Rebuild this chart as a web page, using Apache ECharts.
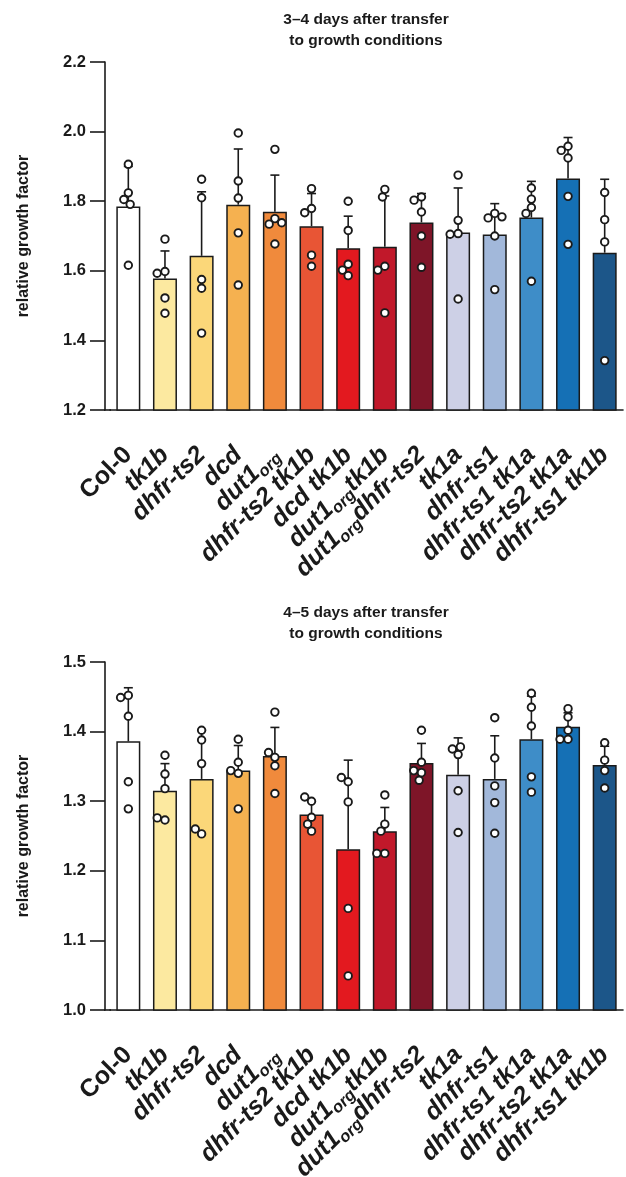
<!DOCTYPE html>
<html>
<head>
<meta charset="utf-8">
<script src="https://cdn.jsdelivr.net/npm/echarts@6/dist/echarts.min.js"></script>
<style>
  html, body { margin: 0; padding: 0; background: #fff; }
  #chart { width: 626px; height: 1177px; }
</style>
</head>
<body>
<div id="chart"></div>
<script>
// Genotypes on the x axis (shared by both panels)
const categories = ['Col-0', 'tk1b', 'dhfr-ts2', 'dcd', 'dut1org', 'dhfr-ts2 tk1b', 'dcd tk1b',
  'dut1org tk1b', 'dut1org dhfr-ts2', 'tk1a', 'dhfr-ts1', 'dhfr-ts1 tk1a', 'dhfr-ts2 tk1a', 'dhfr-ts1 tk1b'];

const barColors = ['#ffffff', '#fce9a0', '#fbd779', '#f5b150', '#f08a3c', '#e85535', '#e3191f',
  '#c1182a', '#7e1528', '#cdd0e6', '#a2b8da', '#3e8dc8', '#1570b5', '#1c5689'];

// Panel A: 3–4 days after transfer (means, mean + SD, single replicates)
const titleA = '3–4 days after transfer\nto growth conditions';
const meanA = [1.785, 1.578, 1.643, 1.790, 1.770, 1.728, 1.665, 1.669, 1.739, 1.710, 1.704, 1.753, 1.865, 1.652];
const sdTopA = [1.900, 1.657, 1.827, 1.950, 1.875, 1.822, 1.757, 1.815, 1.822, 1.838, 1.793, 1.857, 1.983, 1.863];
const pointsA = [
  [1.906, 1.824, 1.805, 1.791, 1.616],
  [1.691, 1.598, 1.593, 1.522, 1.478],
  [1.863, 1.810, 1.575, 1.550, 1.421],
  [1.996, 1.858, 1.809, 1.709, 1.559],
  [1.949, 1.750, 1.734, 1.738, 1.677],
  [1.836, 1.779, 1.767, 1.645, 1.613],
  [1.800, 1.716, 1.619, 1.586, 1.602],
  [1.834, 1.812, 1.613, 1.602, 1.479],
  [1.812, 1.803, 1.769, 1.700, 1.610],
  [1.875, 1.745, 1.707, 1.705, 1.519],
  [1.765, 1.752, 1.755, 1.700, 1.546],
  [1.838, 1.806, 1.782, 1.765, 1.570],
  [1.958, 1.946, 1.924, 1.814, 1.676],
  [1.825, 1.747, 1.683, 1.342]
];
const ticksA = { min: 1.2, max: 2.2, step: 0.2 };

// Panel B: 4–5 days after transfer
const titleB = '4–5 days after transfer\nto growth conditions';
const meanB = [1.386, 1.315, 1.332, 1.344, 1.365, 1.281, 1.231, 1.257, 1.355, 1.338, 1.332, 1.389, 1.407, 1.352];
const sdTopB = [1.463, 1.354, 1.402, 1.380, 1.406, 1.300, 1.359, 1.291, 1.383, 1.391, 1.394, 1.451, 1.427, 1.379];
const pointsB = [
  [1.452, 1.449, 1.422, 1.328, 1.289],
  [1.366, 1.339, 1.318, 1.273, 1.276],
  [1.402, 1.388, 1.354, 1.253, 1.260],
  [1.389, 1.356, 1.340, 1.344, 1.289],
  [1.428, 1.363, 1.351, 1.370, 1.311],
  [1.300, 1.306, 1.277, 1.257, 1.267],
  [1.328, 1.334, 1.299, 1.146, 1.049],
  [1.309, 1.267, 1.257, 1.225, 1.225],
  [1.402, 1.356, 1.341, 1.344, 1.330],
  [1.367, 1.375, 1.378, 1.315, 1.255],
  [1.420, 1.362, 1.322, 1.298, 1.254],
  [1.455, 1.435, 1.408, 1.335, 1.313],
  [1.433, 1.421, 1.402, 1.389, 1.389],
  [1.384, 1.359, 1.344, 1.319]
];
const ticksB = { min: 1.0, max: 1.5, step: 0.1 };

const yName = 'relative growth factor';

const INK = '#1a1a1a';
const FONT = '"Liberation Sans", Arial, sans-serif';

// Genotype names: italic, "org" set as a subscript, wild type upright
function genotypeLabel(name) {
  if (name === 'Col-0') return '{n|Col-0}';
  return name.split(' ').map(function (part) {
    if (part === 'dut1org') return '{i|dut1}{s|org}';
    return '{i|' + part + '}';
  }).join('{i| }').replace('{s|org}{i| }', '{s|org}');
}

const labelRich = {
  n: { fontFamily: FONT, fontWeight: 'bold', fontSize: 25, color: INK, lineHeight: 31 },
  i: { fontFamily: FONT, fontWeight: 'bold', fontStyle: 'italic', fontSize: 25, color: INK, lineHeight: 31 },
  s: { fontFamily: FONT, fontWeight: 'bold', fontStyle: 'italic', fontSize: 16.5, color: INK, lineHeight: 14, verticalAlign: 'bottom' }
};

const grids = [
  { left: 110, right: 3, top: 62, height: 348, outerBoundsMode: 'none' },
  { left: 110, right: 3, top: 662, height: 348, outerBoundsMode: 'none' }
];

function xAxisFor(gi) {
  return {
    type: 'category', gridIndex: gi, data: categories,
    jitter: 24, jitterOverlap: false, jitterMargin: 0.5,
    axisLine: { lineStyle: { color: INK, width: 1.6 } },
    axisTick: { alignWithLabel: true, length: 14, lineStyle: { color: INK, width: 1.6 } },
    axisLabel: { interval: 0, rotate: 45, margin: 41, formatter: genotypeLabel, rich: labelRich }
  };
}

function yAxisFor(gi, t) {
  return {
    type: 'value', gridIndex: gi, min: t.min, max: t.max, interval: t.step, offset: 5,
    name: yName, nameLocation: 'middle', nameGap: 73,
    nameTextStyle: { fontFamily: FONT, fontWeight: 'bold', fontSize: 16, color: INK },
    axisLine: { show: true, lineStyle: { color: INK, width: 1.6 } },
    axisTick: { show: true, length: 15, lineStyle: { color: INK, width: 1.6 } },
    axisLabel: { margin: 19, fontFamily: FONT, fontWeight: 'bold', fontSize: 16.5, color: INK,
      formatter: function (v) { return v.toFixed(1); } },
    splitLine: { show: false }
  };
}

function seriesFor(gi, means, tops, points) {
  return [
    {
      type: 'bar', xAxisIndex: gi, yAxisIndex: gi, barWidth: 24, z: 2,
      data: means.map(function (m, i) {
        return { value: m, itemStyle: { color: barColors[i] } };
      }),
      itemStyle: { borderColor: INK, borderWidth: 1.5 }
    },
    {
      type: 'custom', xAxisIndex: gi, yAxisIndex: gi, z: 3,
      data: means.map(function (m, i) { return [i, m, tops[i]]; }),
      encode: { x: 0, y: [1, 2] },
      renderItem: function (params, api) {
        const base = api.coord([api.value(0), api.value(1)]);
        const top = api.coord([api.value(0), api.value(2)]);
        const half = 4.5;
        const st = { stroke: INK, lineWidth: 1.6 };
        return {
          type: 'group',
          children: [
            { type: 'line', shape: { x1: base[0], y1: base[1], x2: top[0], y2: top[1] }, style: st },
            { type: 'line', shape: { x1: top[0] - half, y1: top[1], x2: top[0] + half, y2: top[1] }, style: st }
          ]
        };
      }
    },
    {
      type: 'scatter', xAxisIndex: gi, yAxisIndex: gi, z: 4,
      symbol: 'circle', symbolSize: 7.5,
      itemStyle: { color: '#ffffff', borderColor: INK, borderWidth: 1.9, opacity: 1 },
      data: points.reduce(function (acc, list, i) {
        list.forEach(function (v) { acc.push([i, v]); });
        return acc;
      }, [])
    }
  ];
}

const chart = echarts.init(document.getElementById('chart'), null, { renderer: 'canvas' });

const titleStyle = { fontFamily: FONT, fontWeight: 'bold', fontSize: 15.5, color: INK, lineHeight: 21 };

chart.setOption({
  backgroundColor: '#ffffff',
  animation: false,
  title: [
    { text: titleA, left: 361, top: 4, textAlign: 'center', textStyle: titleStyle },
    { text: titleB, left: 361, top: 597, textAlign: 'center', textStyle: titleStyle }
  ],
  grid: grids,
  xAxis: [xAxisFor(0), xAxisFor(1)],
  yAxis: [yAxisFor(0, ticksA), yAxisFor(1, ticksB)],
  series: seriesFor(0, meanA, sdTopA, pointsA).concat(seriesFor(1, meanB, sdTopB, pointsB)),
  // short stretch of the x axis line between the offset y axis and the plot area
  graphic: [
    { type: 'line', shape: { x1: 104, y1: 410, x2: 111, y2: 410 }, style: { stroke: INK, lineWidth: 1.6 } },
    { type: 'line', shape: { x1: 104, y1: 1010, x2: 111, y2: 1010 }, style: { stroke: INK, lineWidth: 1.6 } }
  ]
});
</script>
</body>
</html>
